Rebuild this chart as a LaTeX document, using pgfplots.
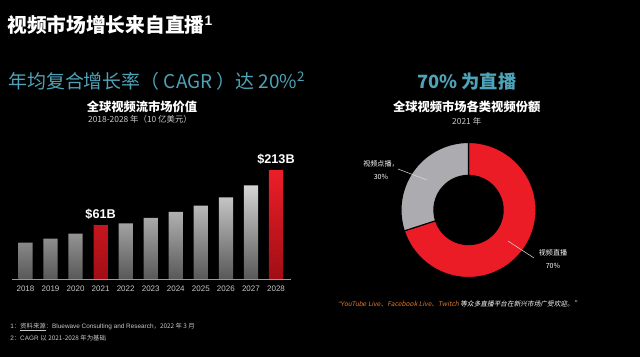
\documentclass[border=0pt]{standalone}
\usepackage{pgfplots}
\pgfplotsset{compat=1.18}
\usepackage{pgfplotstable}
\usepackage{fontspec}
\setmainfont{Liberation Sans}
\newfontfamily\cjk{Noto Sans CJK SC}
\newfontfamily\cjkit{Noto Sans CJK SC}[FakeSlant=0.2]
\definecolor{tealc}{RGB}{78,163,184}
\definecolor{gtop}{RGB}{212,212,212}
\definecolor{gbot}{RGB}{88,88,88}
\definecolor{rtop}{RGB}{236,30,40}
\definecolor{rbot}{RGB}{160,14,22}
\definecolor{dred}{RGB}{236,28,38}
\definecolor{dgray}{RGB}{172,172,176}
\definecolor{foot}{RGB}{200,200,200}
\definecolor{orangeq}{RGB}{226,120,40}

% Global video streaming market value, USD bn
\pgfplotstableread{
x year value
0 2018 13
1 2019 24
2 2020 38
4 2022 66
5 2023 81
6 2024 98
7 2025 115
8 2026 138
9 2027 171
}\graybars
\pgfplotstableread{
x year value
3 2021 61
10 2028 213
}\redbars

% share of video market 2021: live 70, on-demand 30
\def\sharelive{70}
\def\sharevod{30}
\pgfmathsetmacro{\angB}{90-3.6*\sharelive}
\pgfmathsetmacro{\ri}{26/50.625}
\pgfmathsetmacro{\bxi}{\ri*cos(\angB)}
\pgfmathsetmacro{\byi}{\ri*sin(\angB)}

\begin{document}
\begin{tikzpicture}
\begin{scope}[x=0.75pt,y=0.75pt]
\fill[black] (0,0) rectangle (640,357);

% titles
\node[anchor=west, text=white, inner sep=0pt] at (7,332)
  {\fontsize{14.8}{16}\selectfont\cjk\bfseries 视频市场增长来自直播\textsuperscript{\normalfont\bfseries 1}};
\node[anchor=west, text=tealc, inner sep=0pt] at (8,276)
  {\fontsize{14.2}{16}\selectfont\cjk 年均复合增长率（ CAGR ）达 20\%\textsuperscript{2}};
\node[text=white, inner sep=0pt] at (142,250.3)
  {\fontsize{9.2}{11}\selectfont\cjk\bfseries 全球视频流市场价值};
\node[text=foot, inner sep=0pt] at (140,238)
  {\fontsize{6.3}{7}\selectfont\cjk 2018-2028 年（10 亿美元）};

\node[text=tealc, inner sep=0pt] at (466.7,275.3)
  {\fontsize{13.7}{15}\selectfont\cjk\bfseries 70\% 为直播};
\node[text=white, inner sep=0pt] at (466.7,250.3)
  {\fontsize{9.2}{11}\selectfont\cjk\bfseries 全球视频市场各类视频份额};
\node[text=foot, inner sep=0pt] at (466.7,236)
  {\fontsize{6.3}{7}\selectfont\cjk 2021 年};

% quote
\node[anchor=west, inner sep=0pt] at (338,53)
  {\fontsize{5}{6}\selectfont\color{orangeq}\itshape “YouTube Live\cjkit 、\itshape Facebook Live\cjkit 、\itshape Twitch \color{white}\cjkit 等众多直播平台在新兴市场广受欢迎。”};

% footnotes
\node[anchor=west, inner sep=0pt, text=foot] at (10,30)
  {\fontsize{4.8}{6}\selectfont 1\cjk ：\underline{资料来源}：\normalfont Bluewave Consulting and Research\cjk ，2022 年 3 月};
\node[anchor=west, inner sep=0pt, text=foot] at (10,19)
  {\fontsize{4.8}{6}\selectfont 2\cjk ：\normalfont CAGR \cjk 以 2021-2028 年为基础};
\end{scope}

% bar chart
\begin{axis}[
  at={(8.775pt,58.5pt)}, anchor=south west, scale only axis,
  width=209.5pt, height=89.9pt,
  xmin=-0.55, xmax=10.6, ymin=0, ymax=330,
  ybar, bar width=10.7pt,
  y filter/.expression={y+87},
  axis y line=none, axis x line*=bottom,
  x axis line style={draw=gray!80, line width=0.6pt, -},
  xtick={0,1,2,3,4,5,6,7,8,9,10},
  xticklabels={2018,2019,2020,2021,2022,2023,2024,2025,2026,2027,2028},
  major tick length=0pt,
  xticklabel style={font=\fontsize{6}{7}\selectfont, text=foot, yshift=-2pt},
  clip=false,
]
\addplot[draw=none, bar shift=0pt, top color=gtop, bottom color=gbot] table[x=x,y=value]{\graybars};
\addplot[draw=none, bar shift=0pt, top color=rtop, bottom color=rbot] table[x=x,y=value]{\redbars};
\node[text=white, font=\fontsize{9.5}{11}\selectfont\bfseries, anchor=south] at (axis cs:3,150) {\$61B};
\node[text=white, font=\fontsize{9.5}{11}\selectfont\bfseries, anchor=south] at (axis cs:10,303) {\$213B};
\end{axis}

% donut
\begin{axis}[
  at={(300.75pt,59.625pt)}, anchor=south west, scale only axis,
  width=101.25pt, height=101.25pt,
  xmin=-1, xmax=1, ymin=-1, ymax=1, hide axis, clip=false,
]
\fill[dred, draw=black, line width=0.8pt] (axis cs:0,1)
  arc[start angle=90, end angle=\angB, radius=50.625pt]
  -- (axis cs:\bxi,\byi)
  arc[start angle=\angB, end angle=90, radius=26pt] -- cycle;
\fill[dgray, draw=black, line width=0.8pt] (axis cs:0,1)
  arc[start angle=90, end angle=\angB+360, radius=50.625pt]
  -- (axis cs:\bxi,\byi)
  arc[start angle=\angB+360, end angle=90, radius=26pt] -- cycle;
\end{axis}

% donut labels
\begin{scope}[x=0.75pt,y=0.75pt]
\draw[white!85!black, line width=0.4pt] (398,188) -- (427,177);
\draw[white!85!black, line width=0.4pt] (508,116) -- (534,99);
\node[text=white, align=center, inner sep=0pt, font=\fontsize{5.3}{10}\selectfont\cjk] at (381,187)
  {视频点播，\\30\%};
\node[text=white, align=center, inner sep=0pt, font=\fontsize{5.3}{10}\selectfont\cjk] at (553,98)
  {视频直播\\70\%};
\end{scope}
\end{tikzpicture}
\end{document}
